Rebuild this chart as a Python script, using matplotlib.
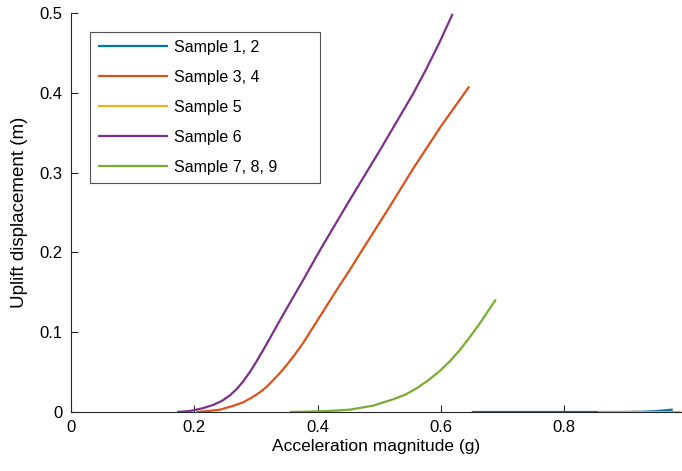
import matplotlib
matplotlib.use("Agg")
import matplotlib.pyplot as plt

plt.rcParams['font.family'] = ['Liberation Sans', 'DejaVu Sans']

# Data
s12_x = [0.650, 0.80, 0.90, 0.93, 0.95, 0.965, 0.976]
s12_y = [0.0, 0.0, 0.0, 0.0004, 0.0012, 0.0022, 0.003]

s34_x = [0.204, 0.220, 0.242, 0.260, 0.279, 0.293, 0.307, 0.318, 0.328, 0.339,
         0.350, 0.363, 0.377, 0.390, 0.404, 0.431, 0.453, 0.474, 0.515, 0.555,
         0.600, 0.646]
s34_y = [0.0, 0.001, 0.003, 0.007, 0.012, 0.018, 0.025, 0.032, 0.040, 0.049,
         0.059, 0.072, 0.087, 0.103, 0.120, 0.153, 0.179, 0.205, 0.255, 0.305,
         0.358, 0.408]

s5_x = [0.855, 0.99]
s5_y = [0.0, 0.0]

s6_x = [0.172, 0.190, 0.201, 0.215, 0.231, 0.245, 0.258, 0.269, 0.279, 0.290,
        0.301, 0.312, 0.323, 0.336, 0.350, 0.377, 0.404, 0.450, 0.501, 0.555,
        0.575, 0.597, 0.619]
s6_y = [0.0, 0.001, 0.0025, 0.005, 0.009, 0.014, 0.021, 0.029, 0.038, 0.050,
        0.0635, 0.078, 0.093, 0.111, 0.130, 0.166, 0.203, 0.263, 0.328, 0.399,
        0.428, 0.462, 0.499]

s789_x = [0.355, 0.400, 0.430, 0.453, 0.490, 0.523, 0.543, 0.561, 0.580, 0.599,
          0.615, 0.631, 0.647, 0.663, 0.676, 0.689]
s789_y = [0.0, 0.0008, 0.0018, 0.003, 0.008, 0.016, 0.022, 0.030, 0.040, 0.052,
          0.064, 0.078, 0.094, 0.111, 0.126, 0.141]

labels = ['Sample 1, 2', 'Sample 3, 4', 'Sample 5', 'Sample 6', 'Sample 7, 8, 9']
colors = ['#0072BD', '#D95319', '#EDB120', '#7E2F8E', '#77AC30']

xticks = [0, 0.2, 0.4, 0.6, 0.8]
xticklabels = ['0', '0.2', '0.4', '0.6', '0.8']
yticks = [0, 0.1, 0.2, 0.3, 0.4, 0.5]
yticklabels = ['0', '0.1', '0.2', '0.3', '0.4', '0.5']

fig = plt.figure(figsize=(6.82, 4.71), dpi=100)
ax = fig.add_axes([71/682, 59/471, 611/682, 399/471])

series = [(s12_x, s12_y), (s34_x, s34_y), (s5_x, s5_y), (s6_x, s6_y), (s789_x, s789_y)]
for (xs, ys), lab, c in zip(series, labels, colors):
    ax.plot(xs, ys, color=c, lw=1.6, label=lab, solid_capstyle='butt',
            solid_joinstyle='round')

ax.set_xlim(0, 0.991)
ax.set_ylim(0, 0.5)
ax.set_xticks(xticks)
ax.set_xticklabels(xticklabels)
ax.set_yticks(yticks)
ax.set_yticklabels(yticklabels)

dark = '#262626'
for s in ['top', 'right']:
    ax.spines[s].set_visible(False)
for s in ['left', 'bottom']:
    ax.spines[s].set_color(dark)
    ax.spines[s].set_linewidth(0.8)
ax.tick_params(direction='in', length=5, width=0.8, colors=dark, labelsize=12,
               labelcolor='black', pad=6)

ax.set_xlabel('Acceleration magnitude (g)', fontsize=12.5, labelpad=3)
ax.set_ylabel('Uplift displacement (m)', fontsize=13.5, labelpad=8)

leg = ax.legend(loc='upper left',
                bbox_to_anchor=(90/682, 1 - 184/471, 230/682, 152/471),
                bbox_transform=fig.transFigure, mode='expand',
                fontsize=11.5, frameon=True,
                fancybox=False, edgecolor=dark, handlelength=4.38,
                labelspacing=0.94, borderpad=0.5, handletextpad=0.4,
                borderaxespad=0)
leg.get_frame().set_linewidth(0.8)

fig.savefig('out.png', dpi=100)
